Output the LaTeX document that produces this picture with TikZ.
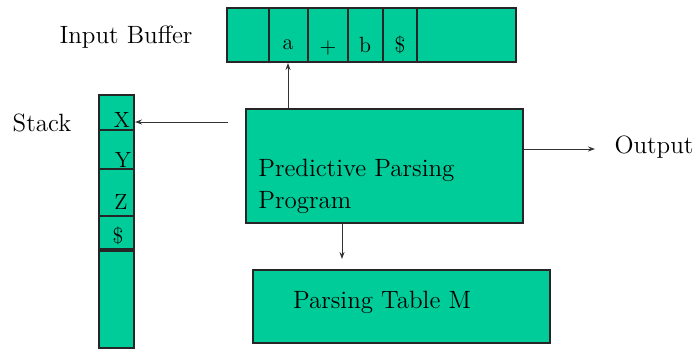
\documentclass[tikz,border=0pt]{standalone}
\usetikzlibrary{arrows.meta,positioning}
\definecolor{parsegreen}{RGB}{0,204,153}

\begin{document}
\begin{tikzpicture}[x=0.5pt, y=-0.5pt, >={Stealth[length=3.5pt,width=2.5pt]},
    box/.style={draw=black!85, line width=1pt, fill=parsegreen, inner sep=0pt},
    sep/.style={draw=black!85, line width=1pt},
    lbl/.style={font=\fontsize{12.5}{16}\selectfont, inner sep=1pt},
    sym/.style={font=\fontsize{11}{13}\selectfont, inner sep=0pt},
    flow/.style={->, line width=0.5pt, black!80}]
    \useasboundingbox (0,0) rectangle (695,348);

    % input buffer
    \node[lbl] (inlbl) at (126,37) {Input Buffer};
    \node[box, minimum width=144.5pt, minimum height=27pt] (buf) at (371.5,35) {};
    \foreach \x in {269,308,348,383,417}
        \draw[sep] (buf.north -| \x,0) -- (buf.south -| \x,0);
    \node[sym] (ca) at (288,45) {a};
    \node[sym] (cplus) at (328,48) {+};
    \node[sym] (cb) at (365,45) {b};
    \node[sym] (cend) at (400,45) {\$};

    % stack
    \node[lbl] (stklbl) at (42,123) {Stack};
    \node[box, minimum width=17.5pt, minimum height=126.5pt] (stk) at (116.5,221.5) {};
    \foreach \y in {130,169,216}
        \draw[sep] (stk.west |- 0,\y) -- (stk.east |- 0,\y);
    \draw[sep, line width=1.6pt] (stk.west |- 0,250) -- (stk.east |- 0,250);
    \node[sym] (sx) at (122,120) {X};
    \node[sym] (sy) at (123,160) {Y};
    \node[sym] (sz) at (121,202) {Z};
    \node[sym] (send) at (118,236) {\$};

    % parser and table
    \node[box, minimum width=138.5pt, minimum height=57pt] (prog) at (384.5,166) {};
    \node[lbl, anchor=west, align=left] (progtxt) at (256,186) {Predictive Parsing\\Program};
    \node[box, minimum width=148.5pt, minimum height=36.5pt] (tbl) at (401.5,306.5) {};
    \node[lbl] (tbltxt) at (382,302) {Parsing Table M};
    \node[lbl] (outlbl) at (654,147) {Output};

    % connections
    \coordinate (fromprog) at (228,122);
    \draw[flow] (prog.north -| ca) -- (buf.south -| ca);
    \draw[flow] (fromprog) -- (stk.east |- fromprog);
    \draw[flow] (prog.east |- 0,149) -- (595,149);
    \draw[flow] (prog.south -| 342,0) -- (tbl.north -| 342,0) [shorten >=5pt];
\end{tikzpicture}
\end{document}
